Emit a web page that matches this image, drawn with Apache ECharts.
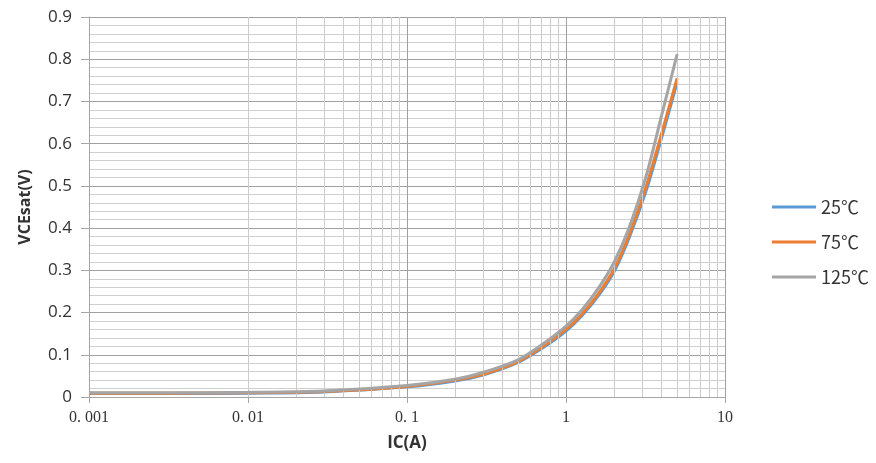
<!DOCTYPE html>
<html>
<head>
<meta charset="utf-8">
<script src="https://cdn.jsdelivr.net/npm/echarts@6/dist/echarts.min.js"></script>
<style>html,body{margin:0;padding:0;background:#fff}#c{width:876px;height:463px}</style>
</head>
<body>
<div id="c"></div>
<script>
const currentA = [0.001, 0.003, 0.01, 0.03, 0.1, 0.2, 0.3, 0.5, 0.7, 1, 1.25, 1.6, 2, 2.5, 3.2, 4, 5];
const v25  = [0.008, 0.008, 0.009, 0.012, 0.024, 0.038, 0.052, 0.082, 0.114, 0.156, 0.191, 0.240, 0.296, 0.378, 0.490, 0.615, 0.745];
const v75  = [0.009, 0.009, 0.010, 0.013, 0.025, 0.040, 0.054, 0.084, 0.117, 0.160, 0.195, 0.245, 0.302, 0.385, 0.500, 0.625, 0.755];
const v125 = [0.010, 0.010, 0.011, 0.014, 0.027, 0.042, 0.058, 0.088, 0.123, 0.168, 0.205, 0.258, 0.318, 0.402, 0.525, 0.668, 0.812];
const seriesNames = ['25℃', '75℃', '125℃'];
const xTickLabels = {0.001: '0. 001', 0.01: '0. 01', 0.1: '0. 1', 1: '1', 10: '10'};
const decades = [0.001, 0.01, 0.1, 1];
const minorMult = [2, 3, 4, 5, 6, 7, 8, 9];

const minorX = [];
decades.forEach(d => minorMult.forEach(m => minorX.push({xAxis: +(d * m).toPrecision(3)})));

const pair = arr => currentA.map((x, i) => [x, arr[i]]);
const lineSeries = (name, data, color, z) => ({
  name, type: 'line', data: pair(data), smooth: 0.3, showSymbol: false, symbol: 'none',
  lineStyle: {color, width: 3}, itemStyle: {color}, z
});

const chart = echarts.init(document.getElementById('c'));
chart.setOption({
  animation: false,
  grid: {left: 89, right: 151, top: 17, bottom: 66},
  legend: {
    orient: 'vertical', left: 767, top: 193, itemWidth: 44, itemHeight: 3, icon: 'rect',
    itemGap: 17,
    textStyle: {fontSize: 18, color: '#333', fontFamily: 'Noto Sans CJK SC'},
    data: seriesNames
  },
  xAxis: {
    type: 'log', logBase: 10, min: 0.001, max: 10,
    name: 'IC(A)', nameLocation: 'middle', nameGap: 38,
    nameTextStyle: {fontSize: 17, fontWeight: 'bold', color: '#333', fontFamily: 'Open Sans'},
    axisLine: {show: true, onZero: false, lineStyle: {color: '#a6a6a6'}},
    axisTick: {show: true, length: 6, lineStyle: {color: '#a6a6a6'}},
    axisLabel: {fontSize: 16, color: '#333', margin: 13, fontFamily: 'Liberation Serif',
      formatter: v => xTickLabels[+v.toPrecision(3)] ?? ''},
    splitLine: {show: true, lineStyle: {color: '#a0a0a0', width: 1}}
  },
  yAxis: {
    type: 'value', min: 0, max: 0.9, interval: 0.1,
    name: 'VCEsat(V)', nameLocation: 'middle', nameGap: 56, nameRotate: 90,
    nameTextStyle: {fontSize: 16, fontWeight: 'bold', color: '#333', fontFamily: 'Open Sans'},
    axisLine: {show: true, lineStyle: {color: '#a6a6a6'}},
    axisTick: {show: true, length: 8, lineStyle: {color: '#a6a6a6'}},
    axisLabel: {fontSize: 17, color: '#333', margin: 17, fontFamily: 'Open Sans',
      formatter: v => v === 0 ? '0' : v.toFixed(1)},
    splitLine: {show: true, lineStyle: {color: '#a0a0a0', width: 1}},
    minorSplitLine: {show: true, lineStyle: {color: '#cfcfcf', width: 1}},
    minorTick: {show: false, splitNumber: 5}
  },
  series: [
    {
      name: 'grid', type: 'line', data: [], silent: true, z: 1,
      markLine: {silent: true, symbol: 'none', label: {show: false},
        lineStyle: {color: '#cccccc', width: 1, type: 'solid'}, data: minorX}
    },
    lineSeries(seriesNames[0], v25, '#5b9bd5', 3),
    lineSeries(seriesNames[1], v75, '#ed7d31', 4),
    lineSeries(seriesNames[2], v125, '#a5a5a5', 5)
  ]
});
</script>
</body>
</html>
